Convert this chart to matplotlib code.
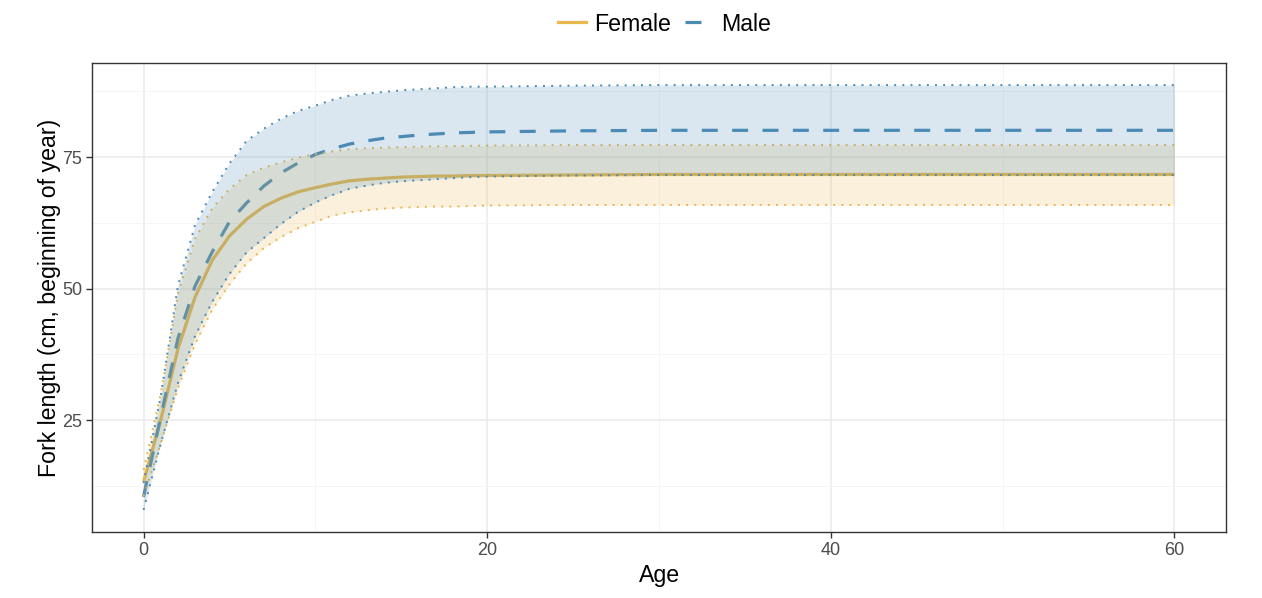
import matplotlib
matplotlib.use("Agg")
import matplotlib.pyplot as plt
from matplotlib.lines import Line2D
import numpy as np

plt.rcParams['font.family'] = ['Liberation Sans', 'DejaVu Sans']

# ages (years) and values
ages = [0, 1, 2, 3, 4, 5, 6, 7, 8, 9, 10, 11, 12, 13, 14, 15, 16, 17, 18, 19, 20,
        25, 30, 35, 40, 45, 50, 55, 60]

female_mean = [13.3, 25.0, 38.5, 48.4, 55.4, 60.0, 63.2, 65.6, 67.2, 68.4, 69.2, 69.9,
               70.5, 70.8, 71.0, 71.2, 71.3, 71.4, 71.4, 71.5, 71.5,
               71.6, 71.7, 71.7, 71.7, 71.7, 71.7, 71.7, 71.7]
female_lo = [10.5, 20.5, 31.0, 39.5, 46.0, 50.8, 54.8, 57.7, 59.8, 61.5, 62.7, 63.9,
             64.5, 64.9, 65.2, 65.4, 65.5, 65.6, 65.6, 65.7, 65.8,
             65.9, 65.9, 65.9, 65.9, 65.9, 65.9, 65.9, 65.9]
female_hi = [15.5, 30.0, 49.0, 59.5, 65.3, 68.9, 71.6, 73.0, 74.0, 74.9, 75.6, 76.1,
             76.5, 76.7, 76.8, 76.9, 77.0, 77.05, 77.1, 77.15, 77.2,
             77.3, 77.3, 77.3, 77.3, 77.3, 77.3, 77.3, 77.3]

male_mean = [10.4, 25.6, 40.5, 50.5, 57.0, 62.7, 66.3, 69.5, 72.0, 73.9, 75.5, 76.6,
             77.5, 78.1, 78.6, 78.9, 79.2, 79.4, 79.6, 79.7, 79.8,
             80.0, 80.1, 80.1, 80.1, 80.1, 80.1, 80.1, 80.1]
male_lo = [7.9, 20.5, 32.0, 41.0, 47.5, 52.8, 56.9, 59.6, 62.3, 64.6, 66.4, 67.8,
           69.0, 69.6, 70.1, 70.4, 70.6, 70.8, 71.0, 71.2, 71.3,
           71.5, 71.6, 71.6, 71.6, 71.6, 71.6, 71.6, 71.6]
male_hi = [13.0, 29.5, 50.5, 62.1, 68.4, 73.8, 78.1, 80.4, 82.3, 83.8, 84.8, 85.9,
           86.7, 87.1, 87.4, 87.7, 87.9, 88.1, 88.3, 88.4, 88.4,
           88.6, 88.7, 88.7, 88.7, 88.7, 88.7, 88.7, 88.7]

female_col = '#E8B84E'
male_col = '#4A8AB5'

fig = plt.figure(figsize=(12.62, 5.98), dpi=100)
ax = fig.add_axes([0.0729, 0.1104, 0.8986, 0.7842])

# grid like theme_bw
ax.set_xticks([0, 20, 40, 60])
ax.set_xticks([10, 30, 50], minor=True)
ax.set_yticks([25, 50, 75])
ax.set_yticks([12.5, 37.5, 62.5, 87.5], minor=True)
ax.grid(which='major', color='#EBEBEB', linewidth=1.1)
ax.grid(which='minor', color='#F4F4F4', linewidth=0.6)
ax.set_axisbelow(True)

# lines first, ribbons drawn over them with alpha (as in reference)
ax.plot(ages, female_mean, color=female_col, lw=2.3, zorder=2, solid_capstyle='butt')
ax.plot(ages, male_mean, color=male_col, lw=2.3, zorder=2, dashes=(5, 4.5))

dot = (0, (1, 3.2))
ax.fill_between(ages, female_lo, female_hi, color=female_col, alpha=0.2, lw=0, zorder=3)
ax.plot(ages, female_lo, color=female_col, lw=1.4, ls=dot, zorder=3)
ax.plot(ages, female_hi, color=female_col, lw=1.4, ls=dot, zorder=3)

ax.fill_between(ages, male_lo, male_hi, color=male_col, alpha=0.2, lw=0, zorder=3)
ax.plot(ages, male_lo, color=male_col, lw=1.4, ls=dot, zorder=3)
ax.plot(ages, male_hi, color=male_col, lw=1.4, ls=dot, zorder=3)

ax.set_xlim(-3, 63)
ax.set_ylim(3.7, 92.9)

for s in ax.spines.values():
    s.set_color('#333333')
    s.set_linewidth(1.0)
ax.tick_params(which='major', length=4, width=1, color='#333333',
               labelsize=13, labelcolor='#4D4D4D', pad=3)
ax.tick_params(which='minor', length=0)

ax.set_xlabel('Age', fontsize=16.7, color='black', labelpad=4)
ax.set_ylabel('Fork length (cm, beginning of year)', fontsize=16.7, color='black', labelpad=1)

handles = [Line2D([], [], color=female_col, lw=2.3),
           Line2D([], [], color=male_col, lw=2.3, dashes=(5, 4.5))]
ax.legend(handles, ['Female', 'Male'], loc='center', bbox_to_anchor=(0.505, 1.083),
          ncol=2, frameon=False, fontsize=16.7, handlelength=1.2,
          handletextpad=0.35, columnspacing=0.6)

fig.savefig('out.png', dpi=100)
